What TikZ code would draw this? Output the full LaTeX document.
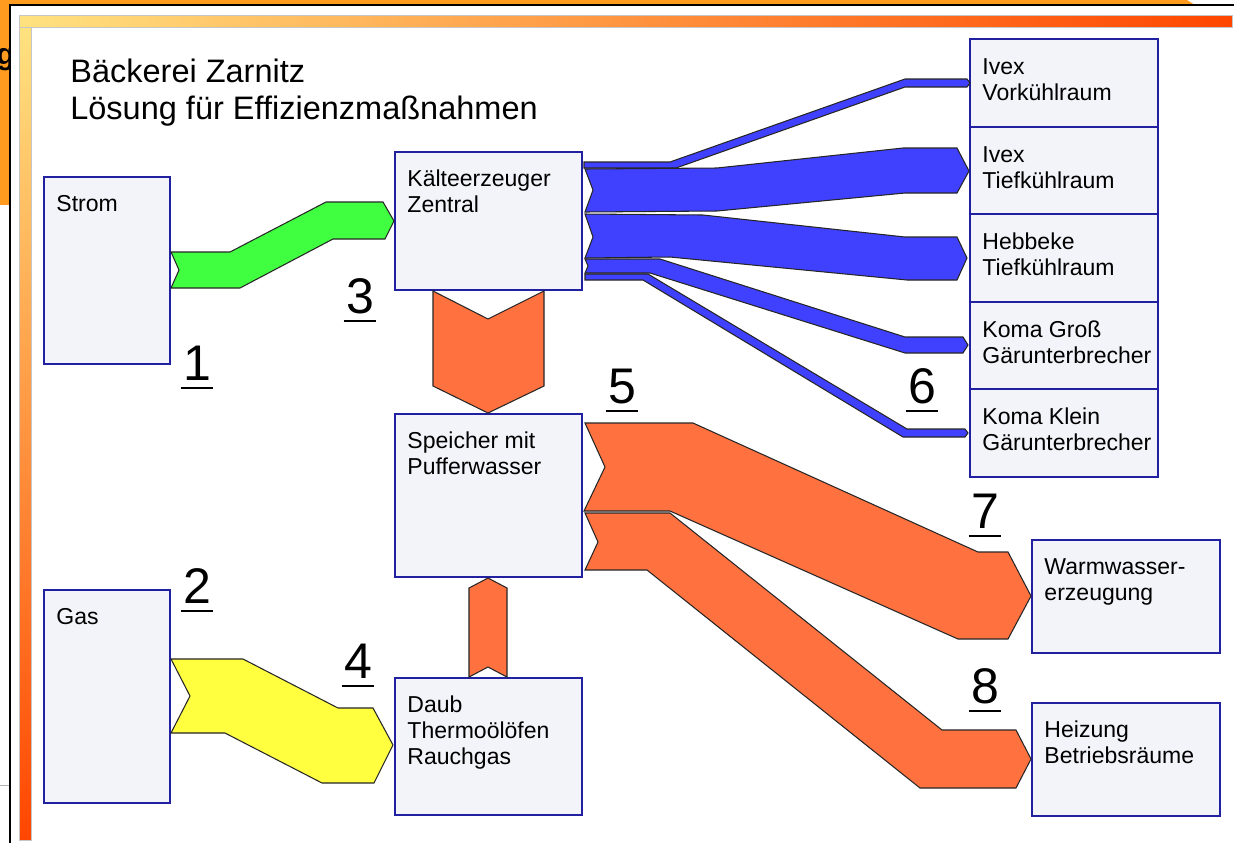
\documentclass[tikz,border=0pt]{standalone}
\usepackage{fontspec}
\setmainfont{Liberation Sans}
\usetikzlibrary{calc,fit}
\definecolor{slideorange}{RGB}{255,155,30}
\definecolor{barY}{RGB}{255,226,128}
\definecolor{barR}{RGB}{255,70,0}
\definecolor{boxfill}{RGB}{243,243,250}
\definecolor{boxline}{RGB}{32,32,160}
\definecolor{flowgreen}{RGB}{64,255,64}
\definecolor{flowyellow}{RGB}{255,255,64}
\definecolor{floworange}{RGB}{255,114,64}
\definecolor{flowblue}{RGB}{64,64,255}
\begin{document}
\begin{tikzpicture}[x=0.02cm,y=-0.02cm,
  box/.style={draw=boxline, fill=boxfill, line width=1pt, rectangle, inner sep=0pt},
  lbl/.style={anchor=base west, align=left, inner sep=0pt, font=\fontsize{13.1}{14.8}\selectfont},
  num/.style={anchor=base, inner sep=0pt, font=\fontsize{28.5}{30}\selectfont},
  uline/.style={line width=1.1pt},
  flow/.style={draw=black!85, line width=0.6pt, line join=miter}]

\useasboundingbox (0,0) rectangle (1234,843);

% slide background
\fill[slideorange] (0,0) -- (1187,0) -- (1195,5) -- (0,5) -- cycle;
\fill[slideorange] (0,0) rectangle (10,205);
\node[anchor=base east, inner sep=0pt, font=\bfseries\fontsize{17}{20}\selectfont] (ng) at (15,64) {ng};
\fill[white] (10,5) rectangle (1234,843);
\draw[gray!60, line width=0.5pt] (0,785) -- (10,785);
\draw[black, line width=1.2pt] (10,843) -- (10,5) -- (1234,5);

% frame bars
\shade[left color=barY, right color=barR, draw=gray!45, line width=0.4pt] (19,15) rectangle (1232,27);
\shade[top color=barY, bottom color=barR, draw=gray!45, line width=0.4pt] (19,27) rectangle (31,840);

% title (anchor = baseline of last line)
\node[anchor=base west, inner sep=0pt, align=left, font=\fontsize{18.5}{20.5}\selectfont] (title) at (70,119)
  {Bäckerei Zarnitz\\Lösung für Effizienzmaßnahmen};

% boxes
\node[box, fit={(44,177) (170,364)}] (strom) {};
\node[box, fit={(44,590) (170,803)}] (gas) {};
\node[box, fit={(395,152) (582,290)}] (kaelte) {};
\node[box, fit={(395,414) (582,577)}] (speicher) {};
\node[box, fit={(395,678) (582,815)}] (daub) {};
\node[box, fit={(970,39) (1158,127)}] (ivexv) {};
\node[box, fit={(970,127) (1158,214)}] (ivext) {};
\node[box, fit={(970,214) (1158,302)}] (hebbeke) {};
\node[box, fit={(970,302) (1158,389)}] (komag) {};
\node[box, fit={(970,389) (1158,477)}] (komak) {};
\node[box, fit={(1032,540) (1220,653)}] (warm) {};
\node[box, fit={(1032,703) (1220,816)}] (heiz) {};

% box labels (anchor = baseline of last line)
\node[lbl] (stromT) at ($(strom.north west)+(13,35)$) {Strom};
\node[lbl] (gasT) at ($(gas.north west)+(13,35)$) {Gas};
\node[lbl] (kaelteT) at ($(kaelte.north west)+(13,61)$) {Kälteerzeuger\\Zentral};
\node[lbl] (speicherT) at ($(speicher.north west)+(13,61)$) {Speicher mit\\Pufferwasser};
\node[lbl] (daubT) at ($(daub.north west)+(13,87)$) {Daub\\Thermoölöfen\\Rauchgas};
\node[lbl] (ivexvT) at ($(ivexv.north west)+(13,62)$) {Ivex\\Vorkühlraum};
\node[lbl] (ivextT) at ($(ivext.north west)+(13,62)$) {Ivex\\Tiefkühlraum};
\node[lbl] (hebbekeT) at ($(hebbeke.north west)+(13,62)$) {Hebbeke\\Tiefkühlraum};
\node[lbl] (komagT) at ($(komag.north west)+(13,62)$) {Koma Groß\\Gärunterbrecher};
\node[lbl] (komakT) at ($(komak.north west)+(13,62)$) {Koma Klein\\Gärunterbrecher};
\node[lbl] (warmT) at ($(warm.north west)+(13,61)$) {Warmwasser-\\erzeugung};
\node[lbl] (heizT) at ($(heiz.north west)+(13,61)$) {Heizung\\Betriebsräume};

% flows
\filldraw[flow, fill=flowgreen] (171,252) -- (230,252) -- (326,202) -- (383,202) -- (394,221) -- (385,239)
  -- (333,239) -- (240,288) -- (171,288) -- (179,270) -- cycle;
\filldraw[flow, fill=flowyellow] (171,659) -- (243,659) -- (338,708) -- (373,708) -- (393,745) -- (374,783)
  -- (322,783) -- (225,733) -- (171,733) -- (190,696) -- cycle;
\filldraw[flow, fill=floworange] (433,291) -- (488,319) -- (544,291) -- (544,386) -- (488,413) -- (433,386) -- cycle;
\filldraw[flow, fill=floworange] (469,677) -- (469,588) -- (488,578) -- (507,588) -- (507,677) -- (488,667) -- cycle;
\filldraw[flow, fill=floworange] (585,513) -- (670,513) -- (942,730) -- (1016,730) -- (1031,759) -- (1016,788)
  -- (920,788) -- (647,570) -- (585,570) -- (598,542) -- cycle;
\filldraw[flow, fill=floworange] (585,423) -- (693,423) -- (978,552) -- (1008,552) -- (1031,596) -- (1008,639)
  -- (958,639) -- (670,511) -- (584,511) -- (605,467) -- cycle;

\filldraw[flow, fill=flowblue] (584,162) -- (670,162) -- (905,79) -- (967,79) -- (970,83) -- (967,87)
  -- (905,87) -- (676,168) -- (584,168) -- cycle;
\filldraw[flow, fill=flowblue] (585,169) -- (717,168) -- (903,148) -- (957,148) -- (969,171) -- (957,193)
  -- (905,193) -- (717,211) -- (585,212) -- (593,190) -- cycle;
\filldraw[flow, fill=flowblue] (585,214) -- (703,215) -- (905,237) -- (957,237) -- (967,258) -- (957,280)
  -- (907,280) -- (670,257) -- (585,258) -- (593,237) -- cycle;
\filldraw[flow, fill=flowblue] (585,259) -- (660,259) -- (905,337) -- (963,337) -- (968,345) -- (963,353)
  -- (905,353) -- (650,273) -- (585,273) -- (588,266) -- cycle;
\filldraw[flow, fill=flowblue] (585,274) -- (648,274) -- (907,429) -- (965,429) -- (968,433) -- (965,437)
  -- (903,437) -- (643,280) -- (585,280) -- cycle;

% numbers
\node[num] (n1) at (197,380) {1};
\node[num] (n2) at (197,603) {2};
\node[num] (n3) at (360,313) {3};
\node[num] (n4) at (358,678) {4};
\node[num] (n5) at (622,403) {5};
\node[num] (n6) at (922,403) {6};
\node[num] (n7) at (985,528) {7};
\node[num] (n8) at (985,703) {8};
\foreach \n in {n1,n2,n3,n4,n5,n6,n7,n8}
  \draw[uline] ($(\n.base west)+(-2,8)$) -- ($(\n.base east)+(2,8)$);
\end{tikzpicture}
\end{document}
